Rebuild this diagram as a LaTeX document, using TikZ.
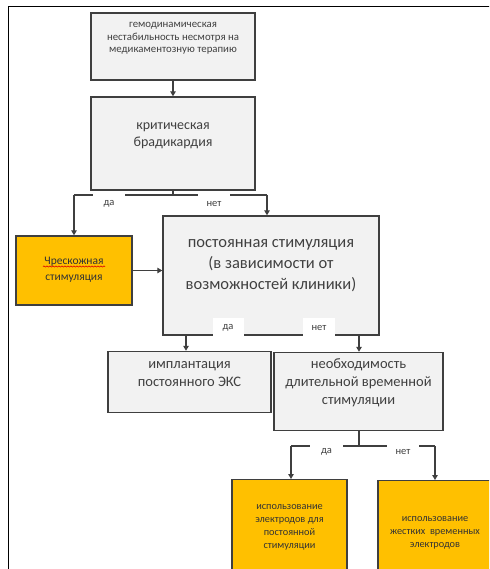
\documentclass[tikz,border=0pt]{standalone}
\usepackage{fontspec}
\setmainfont{Carlito}
\usetikzlibrary{arrows.meta,decorations.pathmorphing}
\definecolor{boxgray}{HTML}{F2F2F2}
\definecolor{edgegray}{HTML}{3F3F3F}
\definecolor{txtgray}{HTML}{404040}
\definecolor{amber}{HTML}{FFC000}
\tikzset{
  gbox/.style={draw=edgegray, line width=1.4pt, fill=boxgray, inner sep=0pt},
  obox/.style={draw=edgegray, line width=1.4pt, fill=amber, inner sep=0pt},
  txt/.style={align=center, text=txtgray, inner sep=0pt},
  otxt/.style={align=center, text=black!80, inner sep=0pt},
  conn/.style={draw=edgegray, line width=1.1pt},
  arr/.style={conn, -{Triangle[length=5pt,width=5.5pt]}},
  lab/.style={fill=white, text=txtgray, font=\fontsize{10.5}{12}\selectfont, inner sep=0pt}
}
\begin{document}
\begin{tikzpicture}[x=1pt,y=-1pt]
\useasboundingbox (0,0) rectangle (489,569);
\clip (0,0) rectangle (489,569);
% frame
\coordinate (fa) at (8.5,600);
\coordinate (fb) at (8.5,6.5);
\coordinate (fc) at (500,6.5);
\draw[line width=1.4pt, black] (fa) -- (fb) -- (fc);

% boxes
\node[gbox, minimum width=164pt, minimum height=67pt] (b1) at (173,46.5) {};
\node[txt, font=\fontsize{10.8}{12.6}\selectfont] (b1t) at (173,38.5) {гемодинамическая\\нестабильность несмотря на\\медикаментозную терапию};

\node[gbox, minimum width=164pt, minimum height=93pt] (b2) at (173,143.5) {};
\node[txt, font=\fontsize{14}{17}\selectfont] (b2t) at (173,135.5) {критическая\\брадикардия};

\node[obox, minimum width=116pt, minimum height=69pt] (b3) at (74,270.5) {};
\node[otxt, font=\fontsize{11.5}{16}\selectfont] (b3t) at (74,270) {Чрескожная\\стимуляция};
\coordinate (sq1) at (43,266.5);
\coordinate (sq2) at (105,266.5);
\draw[red!85!black, line width=0.6pt, decorate, decoration={snake, amplitude=0.6pt, segment length=3pt}] (sq1) -- (sq2);

\node[gbox, minimum width=216pt, minimum height=119pt] (b4) at (271,275.5) {};
\node[txt, font=\fontsize{16.5}{21}\selectfont] (b4t) at (271,266) {постоянная стимуляция\\(в зависимости от\\возможностей клиники)};

\node[gbox, minimum width=163pt, minimum height=61pt] (b5) at (189.5,382) {};
\node[txt, font=\fontsize{14.5}{18}\selectfont] (b5t) at (189.5,374) {имплантация\\постоянного ЭКС};

\node[gbox, minimum width=169pt, minimum height=78pt] (b6) at (358.5,391.5) {};
\node[txt, font=\fontsize{14.5}{18}\selectfont] (b6t) at (358.5,383) {необходимость\\длительной временной\\стимуляции};

\node[obox, minimum width=115pt, minimum height=110pt, anchor=north] (b7) at (289.5,479) {};
\node[otxt, font=\fontsize{10.3}{13}\selectfont] (b7t) at (289.5,527) {использование\\электродов для\\постоянной\\стимуляции};

\node[obox, minimum width=114pt, minimum height=110pt, anchor=north] (b8) at (435,480) {};
\node[otxt, font=\fontsize{10.3}{13}\selectfont] (b8t) at (435,533) {использование\\жестких\ \ временных\\электродов};

% connectors
\draw[arr] (b1.south) -- (b2.north);

\coordinate (j1) at (173,195);
\coordinate (j1l) at (74,195);
\coordinate (j1r) at (267,195);
\draw[conn] (b2.south) -- (j1);
\draw[conn] (j1l) -- (j1r);
\draw[arr] (j1l) -- (b3.north);
\draw[arr] (j1r) -- (j1r |- b4.north);
\node[lab, minimum width=32pt, minimum height=20pt] (l1) at (109,204) {да};
\node[lab, minimum width=32pt, minimum height=20pt] (l2) at (214,204) {нет};

\draw[arr] (b3.east) -- (b3.east -| b4.west);

\coordinate (j2l) at (186,335);
\coordinate (j2r) at (359,335);
\draw[arr] (j2l) -- (j2l |- b5.north);
\draw[arr] (j2r) -- (j2r |- b6.north);
\node[lab, minimum width=31pt, minimum height=19pt] (l3) at (228,327.5) {да};
\node[lab, minimum width=32pt, minimum height=19pt] (l4) at (319,327.5) {нет};

\coordinate (j3) at (359,446);
\coordinate (j3l) at (291,446);
\coordinate (j3r) at (435,446);
\draw[conn] (j3 |- b6.south) -- (j3);
\draw[conn] (j3l) -- (j3r);
\draw[arr] (j3l) -- (j3l |- b7.north);
\draw[arr] (j3r) -- (b8.north);
\node[lab, minimum width=33pt, minimum height=20pt] (l5) at (326.5,452) {да};
\node[lab, minimum width=32pt, minimum height=20pt] (l6) at (403,452) {нет};
\end{tikzpicture}
\end{document}
